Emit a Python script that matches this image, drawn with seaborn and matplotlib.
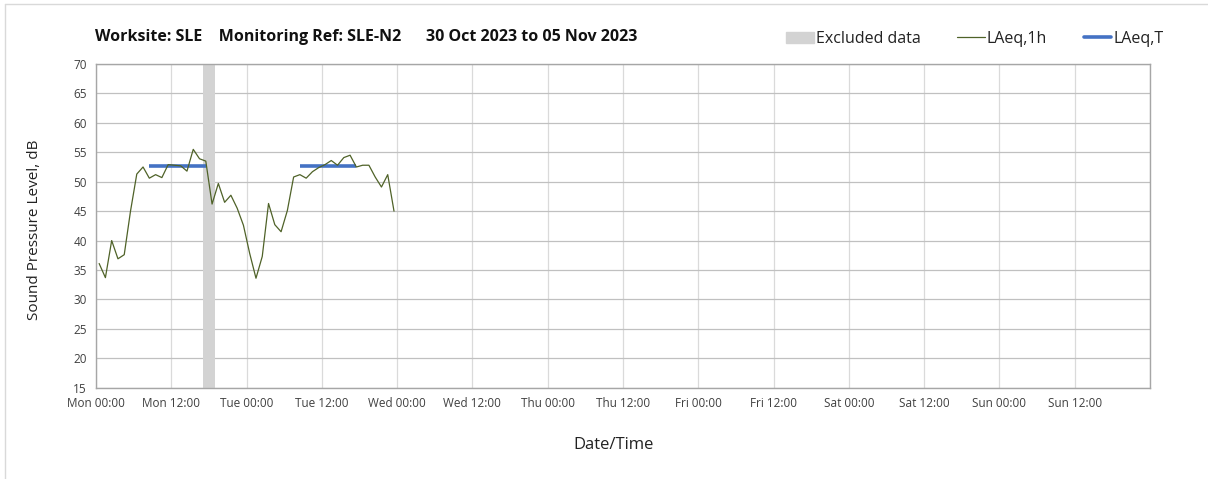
import matplotlib
matplotlib.use("Agg")
import matplotlib.pyplot as plt
import matplotlib.patches as mpatches
from matplotlib.lines import Line2D
import numpy as np
import pandas as pd
import seaborn as sns

# hourly LAeq,1h readings, Mon 00:00 onwards (hour mid-points)
hours = np.arange(48) + 0.5
laeq_1h = [36.1, 33.7, 40.0, 36.9, 37.6, 45.0, 51.3, 52.5, 50.6, 51.2, 50.7, 52.9,
           52.8, 52.7, 51.8, 55.5, 53.9, 53.5, 46.2, 49.7, 46.5, 47.7, 45.5, 42.6,
           37.8, 33.6, 37.3, 46.3, 42.7, 41.5, 45.1, 50.8, 51.2, 50.6, 51.7, 52.4,
           52.9, 53.6, 52.8, 54.1, 54.5, 52.5, 52.8, 52.8, 50.8, 49.1, 51.2, 45.0]

# period LAeq,T lines (start hour, end hour, level)
laeq_t_start = [8.5, 32.5]
laeq_t_end = [17.5, 41.5]
laeq_t_level = [52.6, 52.7]

# excluded data window (hours)
excluded_start = 17.0
excluded_end = 18.9

tick_hours = list(range(0, 169, 12))
tick_labels = ["Mon 00:00", "Mon 12:00", "Tue 00:00", "Tue 12:00", "Wed 00:00",
               "Wed 12:00", "Thu 00:00", "Thu 12:00", "Fri 00:00", "Fri 12:00",
               "Sat 00:00", "Sat 12:00", "Sun 00:00", "Sun 12:00", ""]

sns.set_style("white")
plt.rcParams['font.family'] = ['Open Sans', 'DejaVu Sans']

df = pd.DataFrame({"hour": hours, "level": laeq_1h})

fig = plt.figure(figsize=(12.08, 4.79), dpi=100)
ax = fig.add_axes([96 / 1208, 1 - 387.7 / 479, (1150 - 96) / 1208, (387.7 - 64) / 479])

ax.axvspan(excluded_start, excluded_end, color="#d3d3d3", lw=0, zorder=1)
sns.lineplot(data=df, x="hour", y="level", ax=ax, color="#4f6228", lw=0.9, zorder=3)
for s, e, v in zip(laeq_t_start, laeq_t_end, laeq_t_level):
    ax.plot([s, e], [v, v], color="#4472c4", lw=2.6, zorder=2, solid_capstyle="butt")

ax.set_xlim(0, 168)
ax.set_ylim(15, 70)
ax.set_xticks(tick_hours)
ax.set_xticklabels(tick_labels)
ax.set_yticks(range(15, 71, 5))
ax.tick_params(axis="both", labelsize=8.5, colors="#404040", length=3, width=0.8)
ax.tick_params(axis="both", color="#a6a6a6")
ax.grid(axis="y", color="#c0c0c0", lw=0.9)
ax.grid(axis="x", color="#dadada", lw=0.9)
ax.set_axisbelow(True)
for sp in ax.spines.values():
    sp.set_color("#a6a6a6")
    sp.set_linewidth(1)

ax.set_xlabel("")
ax.set_ylabel("")
fig.text(35 / 1208, 1 - 230 / 479, "Sound Pressure Level, dB", rotation=90,
         ha="center", va="center", fontsize=11, color="#222222")
fig.text(614 / 1208, 1 - 445 / 479, "Date/Time", ha="center", va="center",
         fontsize=12, color="#222222")

fig.text(95 / 1208, 1 - 37 / 479,
         "Worksite: SLE    Monitoring Ref: SLE-N2      30 Oct 2023 to 05 Nov 2023",
         ha="left", va="center", fontsize=11.5, fontweight="bold", color="#111111")

handles = [mpatches.Patch(color="#d3d3d3", label="Excluded data"),
           Line2D([], [], color="#4f6228", lw=0.9, label="LAeq,1h"),
           Line2D([], [], color="#4472c4", lw=2.6, label="LAeq,T")]
fig.legend(handles=handles, loc="center right", bbox_to_anchor=(1178 / 1208, 1 - 39 / 479),
           ncol=3, frameon=False, fontsize=11.5, handlelength=1.7, handletextpad=0.15,
           columnspacing=2.3, labelcolor="#222222")

# faint outer frame like the source export
fig.add_artist(Line2D([5 / 1208, 5 / 1208], [0, 1 - 4 / 479], color="#d9d9d9", lw=1,
                      transform=fig.transFigure))
fig.add_artist(Line2D([5 / 1208, 1], [1 - 4 / 479, 1 - 4 / 479], color="#d9d9d9", lw=1,
                      transform=fig.transFigure))

fig.savefig("out.png", dpi=100)
